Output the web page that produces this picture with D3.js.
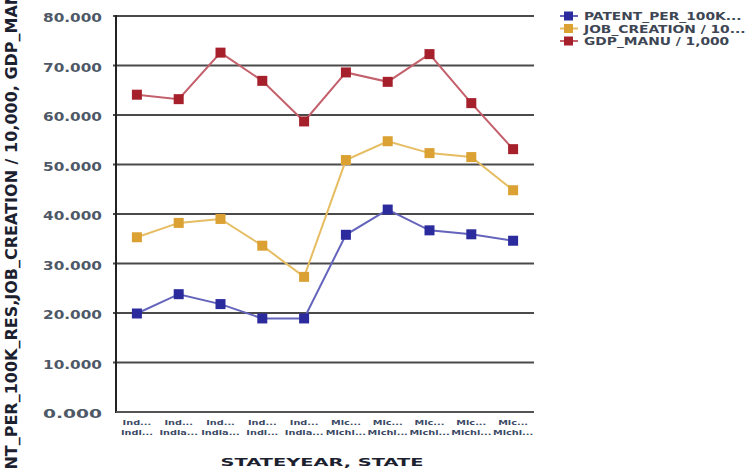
<!DOCTYPE html>
<html>
<head>
<meta charset="utf-8">
<script src="https://cdn.jsdelivr.net/npm/d3@7"></script>
<style>
  html, body { margin: 0; padding: 0; background: #fff; }
  svg { display: block; }
  text { font-family: "DejaVu Sans", Verdana, sans-serif; font-weight: bold; }
</style>
</head>
<body>
<svg id="chart" width="755" height="470"></svg>
<script>
// Category labels (STATEYEAR on the first line, STATE on the second)
const catLine1 = ["Ind...", "Ind...", "Ind...", "Ind...", "Ind...", "Mic...", "Mic...", "Mic...", "Mic...", "Mic..."];
const catLine2 = ["Indi...", "India...", "India...", "Indi...", "India...", "Michi...", "Michi...", "Michi...", "Michi...", "Michi..."];

// Series values
const patentPer100k = [19.9, 23.8, 21.8, 18.9, 18.9, 35.8, 40.9, 36.7, 35.9, 34.6];
const jobCreation   = [35.3, 38.2, 39.0, 33.6, 27.3, 50.9, 54.7, 52.3, 51.5, 44.8];
const gdpManu       = [64.1, 63.2, 72.6, 66.9, 58.7, 68.6, 66.7, 72.3, 62.4, 53.1];

// Legend names and value-axis ticks
const seriesNames = ["PATENT_PER_100K...", "JOB_CREATION / 10...", "GDP_MANU / 1,000"];
const yTicks = [0, 10, 20, 30, 40, 50, 60, 70, 80];

const series = [
  { name: seriesNames[0], values: patentPer100k, line: "#6464bc", mark: "#2b2b9e" },
  { name: seriesNames[1], values: jobCreation,   line: "#e6bd62", mark: "#dba233" },
  { name: seriesNames[2], values: gdpManu,       line: "#c4606c", mark: "#a6202c" }
];

const svg = d3.select("#chart");
const plot = { left: 116, right: 534, top: 16, bottom: 412 };

const x = d3.scaleBand()
  .domain(d3.range(catLine1.length))
  .range([plot.left, plot.right]);

const y = d3.scaleLinear()
  .domain([0, 80])
  .range([plot.bottom, plot.top]);

const cx = i => x(i) + x.bandwidth() / 2;

// Horizontal gridlines
svg.append("g")
  .selectAll("line")
  .data(yTicks.filter(t => t > 0))
  .join("line")
  .attr("x1", plot.left - 3)
  .attr("x2", plot.right)
  .attr("y1", d => y(d))
  .attr("y2", d => y(d))
  .attr("stroke", "#4a4a4a")
  .attr("stroke-width", 2);

// Value axis labels
const fmt = d3.format(".3f");
svg.append("g")
  .selectAll("text")
  .data(yTicks)
  .join("text")
  .attr("x", 102)
  .attr("y", d => y(d) + 6)
  .attr("text-anchor", "end")
  .attr("font-size", 12.5)
  .attr("fill", "#4e5866")
  .attr("textLength", 59)
  .attr("lengthAdjust", "spacingAndGlyphs")
  .text(d => fmt(d));

// Axis lines
svg.append("line")
  .attr("x1", plot.left).attr("x2", plot.left)
  .attr("y1", plot.top - 1).attr("y2", plot.bottom + 1)
  .attr("stroke", "#222").attr("stroke-width", 2);
svg.append("line")
  .attr("x1", plot.left).attr("x2", plot.right)
  .attr("y1", plot.bottom).attr("y2", plot.bottom)
  .attr("stroke", "#555").attr("stroke-width", 2);

// Category labels, two lines each, stretched a little wider
const catG = svg.append("g");
catG.selectAll("text.l1")
  .data(catLine1)
  .join("text")
  .attr("class", "l1")
  .attr("transform", (d, i) => `translate(${cx(i)},425) scale(1.3,1)`)
  .attr("text-anchor", "middle")
  .attr("font-size", 7.5)
  .attr("fill", "#3c4a66")
  .text(d => d);
catG.selectAll("text.l2")
  .data(catLine2)
  .join("text")
  .attr("class", "l2")
  .attr("transform", (d, i) => `translate(${cx(i)},435) scale(1.3,1)`)
  .attr("text-anchor", "middle")
  .attr("font-size", 7.5)
  .attr("fill", "#3c4a66")
  .text(d => d);

// Lines and square markers
const line = d3.line().x((d, i) => cx(i)).y(d => y(d));
series.forEach(s => {
  svg.append("path")
    .attr("d", line(s.values))
    .attr("fill", "none")
    .attr("stroke", s.line)
    .attr("stroke-width", 2);
  svg.append("g")
    .selectAll("rect")
    .data(s.values)
    .join("rect")
    .attr("x", (d, i) => cx(i) - 5)
    .attr("y", d => y(d) - 5)
    .attr("width", 10)
    .attr("height", 10)
    .attr("fill", s.mark);
});

// Axis titles
svg.append("text")
  .attr("x", 322)
  .attr("y", 466)
  .attr("text-anchor", "middle")
  .attr("font-size", 11)
  .attr("fill", "#1c2130")
  .attr("textLength", 203)
  .attr("lengthAdjust", "spacingAndGlyphs")
  .text("STATEYEAR, STATE");

svg.append("text")
  .attr("transform", "translate(17,212) rotate(-90)")
  .attr("text-anchor", "middle")
  .attr("font-size", 16)
  .attr("fill", "#1c2130")
  .text("PATENT_PER_100K_RES,JOB_CREATION / 10,000, GDP_MANU / 1,000");

// Legend
const leg = svg.append("g");
series.forEach((s, i) => {
  const ly = 16 + i * 12.5;
  leg.append("line")
    .attr("x1", 560).attr("x2", 578)
    .attr("y1", ly).attr("y2", ly)
    .attr("stroke", s.line).attr("stroke-width", 2);
  leg.append("rect")
    .attr("x", 564).attr("y", ly - 4.5)
    .attr("width", 9).attr("height", 9)
    .attr("fill", s.mark);
  leg.append("text")
    .attr("transform", `translate(584,${ly + 4}) scale(1.38,1)`)
    .attr("font-size", 10)
    .attr("fill", "#3e4654")
    .text(s.name);
});
</script>
</body>
</html>
